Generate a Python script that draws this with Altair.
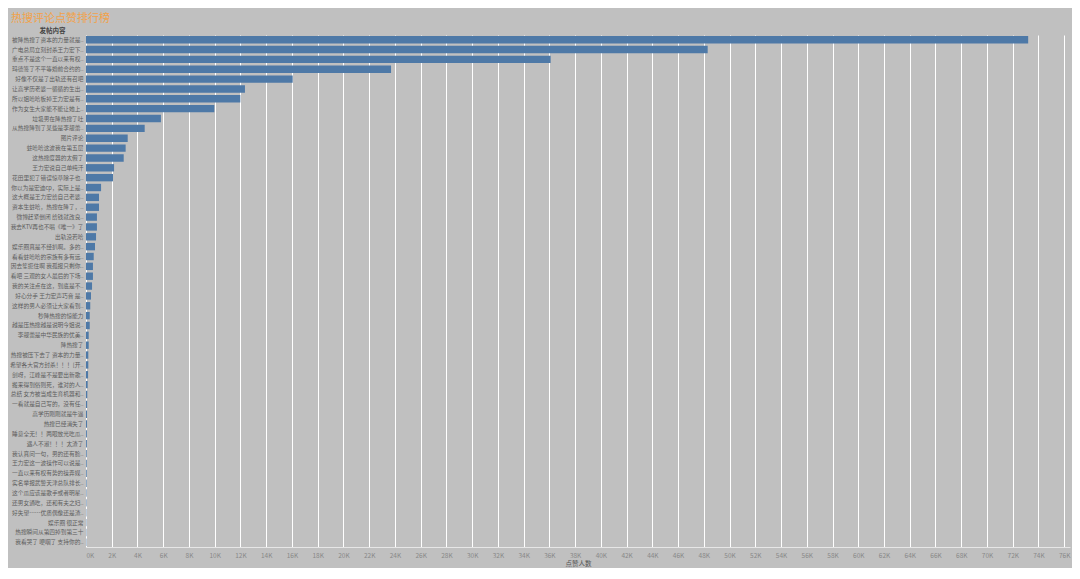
import altair as alt
import pandas as pd

FONT = "Noto Sans CJK SC"

posts = [
    "被降热搜了资本的力量就是..",
    "广电总局立刻封杀王力宏下..",
    "重点不是这个一直以来有权..",
    "玛德签了不平等婚前合约的..",
    "好像不仅是了出轨还有召吧",
    "让高学历老婆一循循的生出..",
    "所以姐哈哈板掉王力宏是有..",
    "作为女生大家能不能让她上..",
    "垃圾男在降热搜了吐",
    "从热搜降到了某些是李靓蕾..",
    "图片评论",
    "蛀哈哈这波我在第五层",
    "这热搜度器的太假了",
    "王力宏说自己单纯汗",
    "花田里犯了错误惊草除子也..",
    "你以为是宏迪cp，实际上是..",
    "这大概是王力宏给自己老婆..",
    "资本生蛀哈，热搜在降了，..",
    "微博赶紧倒闭 给钱就改良..",
    "我去KTV再也不唱《唯一》了",
    "出轨没若哈",
    "娱乐圈真是不经扒啊。多的..",
    "看看蛀哈哈的宗族有多有远..",
    "因去笙扼住啊 我孤报只剩你..",
    "看吧 三观的女人最后的下场..",
    "我的关注点在这，到底是不..",
    "好心分手 王力宏声巧音 是..",
    "这样的男人必须让大家看到..",
    "秒降热搜的惊能力",
    "越是压热搜越是说明今姐说..",
    "李靓蕾是中华民族的优美..",
    "降热搜了",
    "热搜被压下去了 资本的力量..",
    "希望各大官方封杀！！！[开..",
    "剑呀，江峰是不是要出新歌..",
    "搬来得到俗则死，谁对的人..",
    "总结 女方被当成生育机器和..",
    "一看就是自己写的，没有任..",
    "高学历刚刚就是牛逼",
    "热搜已经消失了",
    "睡意全无！！两眼放光吃瓜..",
    "遇人不淑！！！太渣了",
    "我认真问一句，男的还有脸..",
    "王力宏这一波操作可以说是..",
    "一直以来有权有势的操弄媒..",
    "实名举报武警天津总队排长..",
    "这个瓜应该是歌手或者明星..",
    "还男女通吃，还和有夫之妇..",
    "好失望……优质偶像还是渣..",
    "娱乐圈 很正常",
    "热搜瞬间从第四掉到第三十",
    "我看哭了 哽咽了 支持你的..",
]

likes = [
    73200, 48300, 36100, 23700, 16060, 12350, 11990, 9970, 5820, 4560,
    3240, 3080, 2930, 2180, 2100, 1170, 1010, 1010, 850, 850,
    780, 700, 600, 540, 540, 470, 390, 330, 290, 290,
    210, 210, 180, 180, 160, 130, 100, 90, 80, 80,
    70, 70, 60, 60, 60, 50, 40, 40, 30, 30,
    30, 30,
]

tick_values = list(range(0, 78000, 2000))

df = pd.DataFrame({"发帖内容": posts, "点赞人数": likes})

chart = (
    alt.Chart(df)
    .mark_bar(color="#4e79a7")
    .encode(
        y=alt.Y(
            "发帖内容:N",
            sort=None,
            scale=alt.Scale(paddingInner=0.25, paddingOuter=0.1),
            axis=alt.Axis(
                title="发帖内容",
                titleAngle=0,
                titleX=-34,
                titleY=-5,
                titleAlign="center",
                titleBaseline="middle",
                titleFont=FONT,
                titleFontSize=6.5,
                titleFontWeight="bold",
                titleColor="#444444",
                labelFont=FONT,
                labelFontSize=5.7,
                labelColor="#5c5c5c",
                labelLimit=300,
                labelPadding=3,
                ticks=False,
                domain=False,
                grid=False,
            ),
        ),
        x=alt.X(
            "点赞人数:Q",
            scale=alt.Scale(domain=[0, 76450], nice=False),
            axis=alt.Axis(
                values=tick_values,
                labelExpr="datum.value / 1000 + 'K'",
                labelFont=FONT,
                labelFontSize=6.5,
                labelColor="#888888",
                labelPadding=5,
                ticks=False,
                grid=True,
                gridColor="#ffffff",
                gridWidth=1,
                domainColor="#e6e6e6",
                title="点赞人数",
                titleFont=FONT,
                titleFontSize=6.5,
                titleFontWeight="normal",
                titleColor="#555555",
                titlePadding=2,
            ),
        ),
    )
    .properties(
        width=984,
        height=512,
        autosize=alt.AutoSizeParams(type="none"),
        padding={"left": 78, "top": 27, "right": 2, "bottom": 21},
        title=alt.TitleParams(
            "热搜评论点赞排行榜",
            anchor="start",
            frame="group",
            dx=-75,
            dy=1,
            font=FONT,
            fontSize=11,
            fontWeight="normal",
            color="#f2a24a",
        ),
    )
    .configure(background="#c0c0c0")
    .configure_view(strokeWidth=0)
)

chart.save("out.html", embed_options={"renderer": "svg", "actions": False})
